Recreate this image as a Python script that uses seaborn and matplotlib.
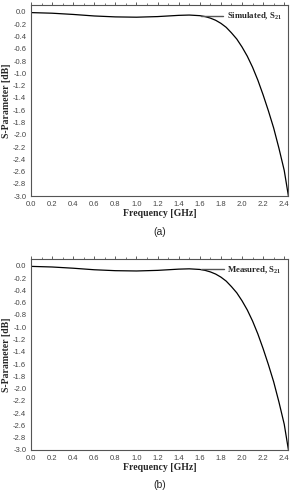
import matplotlib
matplotlib.use("Agg")
import matplotlib.pyplot as plt
import seaborn as sns
import pandas as pd
from matplotlib.ticker import MultipleLocator

freq = [0.0, 0.2, 0.4, 0.6, 0.8, 1.0, 1.2, 1.4, 1.5, 1.6, 1.65, 1.7, 1.75, 1.8,
        1.85, 1.9, 1.95, 2.0, 2.05, 2.1, 2.15, 2.2, 2.25, 2.3, 2.35, 2.4, 2.44]
s21_sim = [-0.01, -0.02, -0.04, -0.065, -0.08, -0.085, -0.075, -0.055, -0.05,
           -0.06, -0.075, -0.10, -0.135, -0.185, -0.25, -0.34, -0.44, -0.57,
           -0.72, -0.90, -1.11, -1.35, -1.61, -1.89, -2.22, -2.58, -3.0]
s21_meas = [-0.01, -0.02, -0.04, -0.065, -0.08, -0.085, -0.075, -0.055, -0.05,
            -0.06, -0.075, -0.10, -0.135, -0.185, -0.25, -0.34, -0.44, -0.57,
            -0.72, -0.90, -1.11, -1.35, -1.61, -1.89, -2.22, -2.58, -3.0]
labels = ["Simulated, S$_{\\mathregular{21}}$", "Measured, S$_{\\mathregular{21}}$"]
panels = ["(a)", "(b)"]
yticks = [round(-3.0 + 0.2 * i, 1) for i in range(16)]
xticks = [round(0.2 * i, 1) for i in range(13)]

sns.set_theme(style="white")
plt.rcParams["font.family"] = ["Liberation Sans", "DejaVu Sans"]
plt.rcParams["mathtext.fontset"] = "custom"
plt.rcParams["mathtext.rm"] = "Liberation Serif:bold"
plt.rcParams["mathtext.it"] = "Liberation Serif:bold"

fig = plt.figure(figsize=(2.95, 4.98), dpi=100)
positions = [[0.105, 0.606, 0.871, 0.384], [0.105, 0.0964, 0.871, 0.384]]
series = [s21_sim, s21_meas]

for i in range(2):
    ax = fig.add_axes(positions[i])
    df = pd.DataFrame({"Frequency": freq, "S": series[i]})
    sns.lineplot(data=df, x="Frequency", y="S", ax=ax, color="black", lw=0.9,
                 label=labels[i])
    ax.set_xlim(0.0, 2.435)
    ax.set_ylim(-3.0, 0.114)
    ax.set_xticks(xticks)
    ax.set_yticks(yticks)
    ax.set_xticklabels([f"{v:.1f}" for v in xticks])
    ax.set_yticklabels([f"{v:.1f}" if v != 0 else "0.0" for v in yticks])
    ax.xaxis.set_minor_locator(MultipleLocator(0.1))
    ax.yaxis.set_minor_locator(MultipleLocator(0.1))
    ax.tick_params(axis="both", which="major", labelsize=5.5, length=2.2, width=0.6,
                   color="#444444", labelcolor="#444444", pad=1.2, direction="out")
    ax.tick_params(axis="both", which="minor", length=1.4, width=0.5, color="#444444",
                   direction="out")
    ax.tick_params(axis="x", which="both", top=True)
    for sp in ax.spines.values():
        sp.set_color("#555555")
        sp.set_linewidth(0.8)
    ax.set_xlabel("Frequency [GHz]", family="Liberation Serif", fontweight="bold",
                  fontsize=7, labelpad=1)
    ax.set_ylabel("S-Parameter [dB]", family="Liberation Serif", fontweight="bold",
                  fontsize=7)
    ax.yaxis.set_label_coords(-0.078, 0.5)
    leg = ax.legend(loc="upper right", frameon=False, handlelength=2.6,
                    borderaxespad=0.3, handletextpad=0.4,
                    prop={"family": "Liberation Serif", "weight": "bold", "size": 6.3})
    for line in leg.get_lines():
        line.set_color("#555555")
        line.set_linewidth(1.0)
    ax.text(0.5, -0.185, panels[i], transform=ax.transAxes, ha="center", va="center",
            fontsize=7.5, family="Liberation Sans")

fig.savefig("out.png", dpi=100)
